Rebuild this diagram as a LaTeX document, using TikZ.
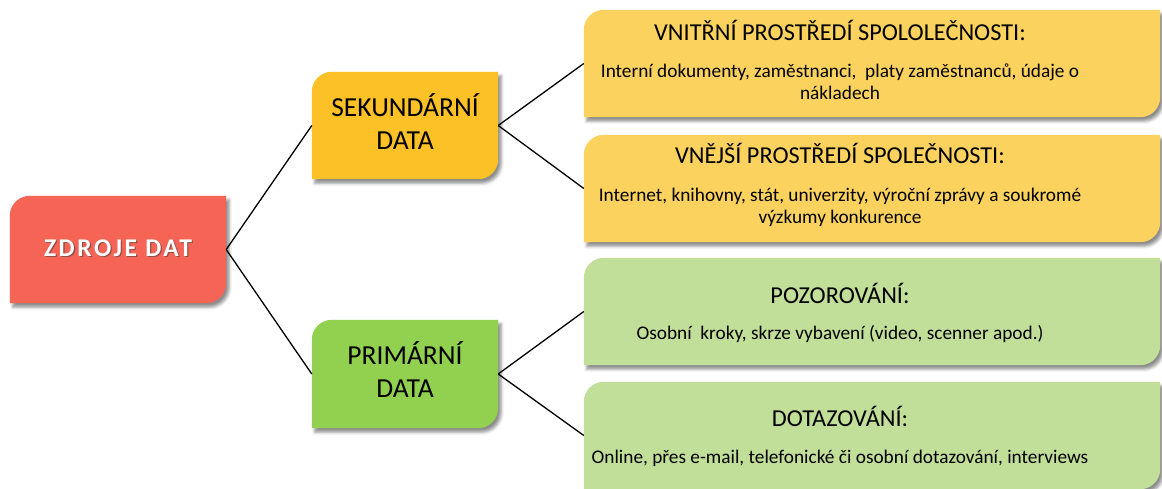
\documentclass[tikz,border=0pt]{standalone}
\usepackage{fontspec}
\setmainfont{Carlito}
\newfontfamily\zfont[LetterSpace=10]{Carlito}
\usetikzlibrary{shadows.blur,backgrounds}
\definecolor{cred}{RGB}{245,100,84}
\definecolor{cyel}{RGB}{252,193,38}
\definecolor{clyel}{RGB}{252,210,95}
\definecolor{cgrn}{RGB}{146,208,80}
\definecolor{clgrn}{RGB}{194,223,153}
\newcommand\ushape[3]{%
  \fill[#2, blur shadow={shadow xshift=3pt, shadow yshift=-4pt, shadow blur radius=3pt, shadow opacity=45}]
    (#1.south west) -- ([yshift=-#3]#1.north west) arc[start angle=180,end angle=90,radius=#3]
    -- (#1.north east) -- ([yshift=#3]#1.south east) arc[start angle=0,end angle=-90,radius=#3] -- cycle;}
\begin{document}
\begin{tikzpicture}[x=1pt,y=-1pt,
  shp/.style={draw=none, inner sep=0pt},
  midbox/.style={shp, minimum width=186pt, minimum height=107pt},
  bigbox/.style={shp, minimum width=576pt, minimum height=107pt},
  txt/.style={inner sep=0pt, align=center, text=black, anchor=base},
  midtxt/.style={txt, font=\fontsize{27.5}{32.6}\selectfont},
  ttl/.style={txt, font=\fontsize{24.3}{28}\selectfont},
  body/.style={txt, font=\fontsize{19.3}{22}\selectfont},
  ztxt/.style={txt, font=\zfont\bfseries\fontsize{25.5}{30}\selectfont},
  conn/.style={line width=1.3pt, black}]
\useasboundingbox (0,0) rectangle (1162,489);
% boxes
\node[shp, minimum width=216pt, minimum height=107pt] (z) at (118,249.5) {};
\node[midbox] (s) at (405,125.5) {};
\node[midbox, minimum height=108pt] (p) at (405,374) {};
\node[bigbox] (b1) at (872,63.5) {};
\node[bigbox] (b2) at (872,188.5) {};
\node[bigbox] (b3) at (872,311.5) {};
\node[bigbox] (b4) at (872,435.5) {};
% texts (multi-line nodes are anchored at the baseline of their last line)
\node[ztxt, text=white] (zt) at (118,256) {ZDROJE DAT};
\node[midtxt] (st) at (405,149.3) {SEKUNDÁRNÍ\\DATA};
\node[midtxt] (pt) at (405,397.3) {PRIMÁRNÍ\\DATA};
\node[ttl] (t1) at (840,41) {VNITŘNÍ PROSTŘEDÍ SPOLOLEČNOSTI:};
\node[body] (d1) at (840,100) {Interní dokumenty, zaměstnanci,\ \ platy zaměstnanců, údaje o\\nákladech};
\node[ttl] (t2) at (840,164) {VNĚJŠÍ PROSTŘEDÍ SPOLEČNOSTI:};
\node[body] (d2) at (840,223.5) {Internet, knihovny, stát, univerzity, výroční zprávy a soukromé\\výzkumy konkurence};
\node[ttl] (t3) at (840,303) {POZOROVÁNÍ:};
\node[body] (d3) at (840,339.3) {Osobní\ \ kroky, skrze vybavení (video, scenner apod.)};
\node[ttl] (t4) at (840,426.7) {DOTAZOVÁNÍ:};
\node[body] (d4) at (840,463.3) {Online, přes e-mail, telefonické či osobní dotazování, interviews};
\begin{pgfonlayer}{background}
  \ushape{z}{cred}{20pt}
  \ushape{s}{cyel}{20pt}
  \ushape{p}{cgrn}{20pt}
  \ushape{b1}{clyel}{20pt}
  \ushape{b2}{clyel}{20pt}
  \ushape{b3}{clgrn}{20pt}
  \ushape{b4}{clgrn}{20pt}
  \node[ztxt, text=black!75, opacity=0.55] (zs) at (119.3,257.5) {ZDROJE DAT};
\end{pgfonlayer}
% connectors
\draw[conn] (z.east) -- (s.west);
\draw[conn] (z.east) -- (p.west);
\draw[conn] (s.east) -- (b1.west);
\draw[conn] (s.east) -- (b2.west);
\draw[conn] (p.east) -- (b3.west);
\draw[conn] (p.east) -- (b4.west);
\end{tikzpicture}
\end{document}
